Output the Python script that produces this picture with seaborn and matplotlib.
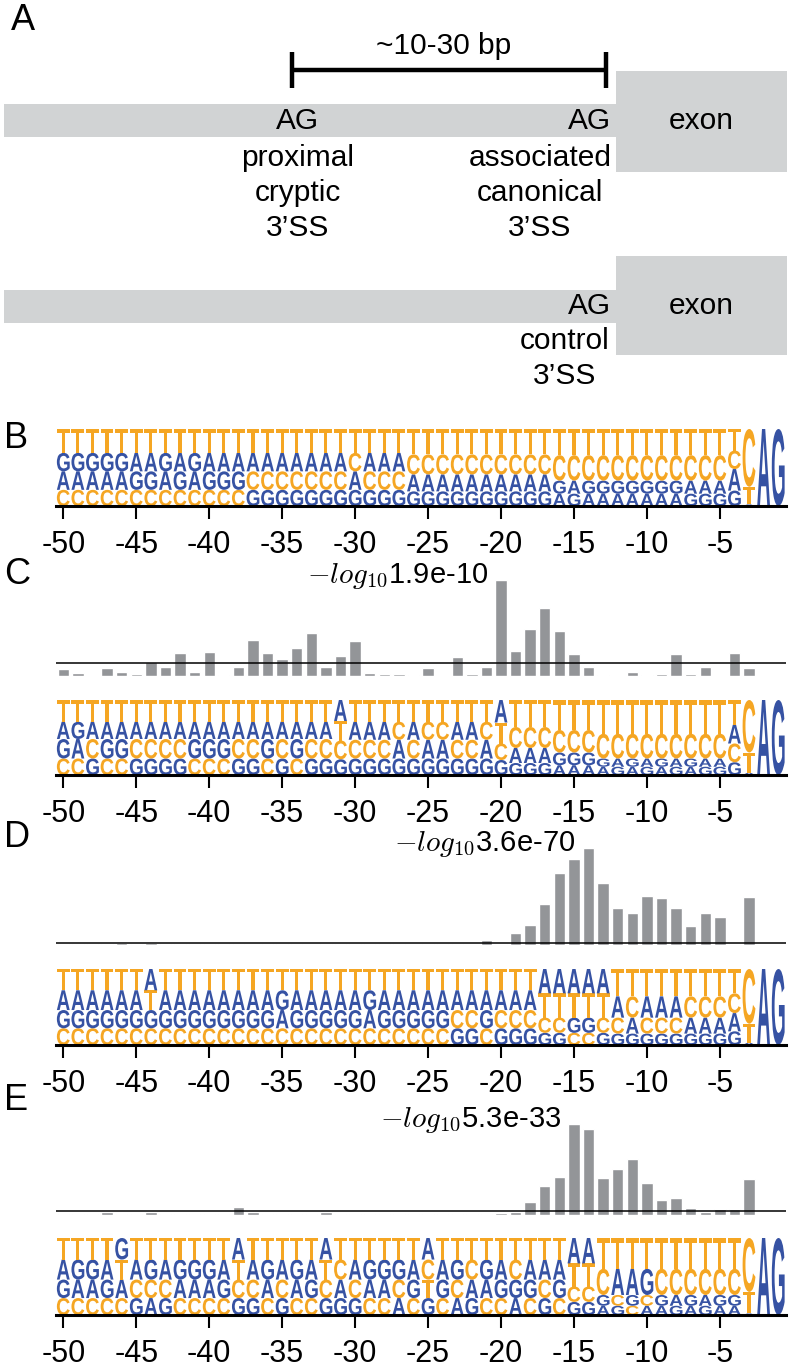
import numpy as np
import pandas as pd
import matplotlib
matplotlib.use("Agg")
import matplotlib.pyplot as plt
import seaborn as sns
from matplotlib.textpath import TextPath
from matplotlib.patches import PathPatch, Rectangle
from matplotlib.font_manager import FontProperties
from matplotlib.transforms import Affine2D

# ---------------------------------------------------------------- data
positions = list(range(-50, 0))          # logo columns -50 .. -1
bar_pos = list(range(-50, -2))           # bar columns -50 .. -3
tick_pos = list(range(-50, 0, 5))
tick_labels = [str(t) for t in tick_pos]

# logo rows, top to bottom, one letter per column (blank = no letter)
b_rows = [
    "T" * 47 + "CAG",
    "GGGGGAAGAGAAA" + "AAAAAAA" + "C" + "AAA" + "C" * 22 + "C" + "T  ",
    "AAAAAGGAGAGGG" + "CCCCCCC" + "A" + "CCC" + "A" * 10 + "G" + "A" + "G" * 7 + "AAA" + "A" + "A  ",
    "C" * 13 + "G" * 7 + "G" + "GGG" + "G" * 10 + "A" + "G" + "A" * 7 + "GGG" + "G" + "   ",
]
b_heights = [
    [31] * 24 + [33] * 10 + [34] * 12 + [28] + [75, 100, 100],
    [24] * 24 + [26] * 10 + [33] * 12 + [24] + [23, 0, 0],
    [24] * 24 + [22] * 10 + [17] * 12 + [28] + [2, 0, 0],
    [21] * 24 + [19] * 10 + [16] * 12 + [20] + [0, 0, 0],
]

c_rows = [
    "T" * 19 + "A" + "T" * 10 + "A" + "T" * 16 + "CAG",
    "AGAAAAAAAAAAAAAAAAA" + "T" + "AAA" + "CACCAAC" + "T" + "C" * 15 + "A" + "T  ",
    "GACGGCCCCGGGCCGCGCC" + "C" + "CCC" + "ACAACCA" + "C" + "AAA" + "GGG" + "GAGAGAGAA" + "C" + "A  ",
    "CCGCCGGGGCCCGGCGCGG" + "G" + "GGG" + "GGGGGGG" + "G" + "GGG" + "AAA" + "AGAGAGAGG" + "G" + "   ",
]
c_heights = [
    [29] * 19 + [28] + [29] * 10 + [30] + [36] * 3 + [40] * 3 + [45] * 9 + [33] + [70, 100, 100],
    [23] * 19 + [26] + [24] * 10 + [28] + [28] * 3 + [30] * 3 + [33] * 9 + [25] + [27, 0, 0],
    [26] * 19 + [25] + [25] * 10 + [22] + [20] * 3 + [17] * 3 + [11] * 9 + [25] + [3, 0, 0],
    [22] * 19 + [21] + [22] * 10 + [20] + [16] * 3 + [13] * 3 + [11] * 9 + [17] + [0, 0, 0],
]

d_rows = [
    "T" * 6 + "A" + "T" * 26 + "A" * 5 + "T" * 9 + "CAG",
    "A" * 6 + "T" + "A" * 8 + "G" + "A" * 5 + "G" + "A" * 11 + "T" * 5 + "AC" + "AAA" + "CCCC" + "T  ",
    "G" * 15 + "A" + "G" * 5 + "A" + "G" * 5 + "CCG" + "C" * 5 + "GG" + "CCA" + "CCC" + "AAAA" + "A  ",
    "C" * 27 + "GGC" + "G" * 5 + "CC" + "GGG" + "GGG" + "GGGG" + "   ",
]
d_heights = [
    [28] * 33 + [32] * 5 + [36] * 8 + [32] + [72, 100, 100],
    [26] * 33 + [32] * 5 + [28] * 8 + [26] + [25, 0, 0],
    [24] * 33 + [20] * 5 + [21] * 8 + [24] + [3, 0, 0],
    [22] * 33 + [16] * 5 + [15] * 8 + [18] + [0, 0, 0],
]

e_rows = [
    "TTTTGTTTTTTTATTTTTATTTTTTA" + "T" * 9 + "AA" + "T" * 10 + "CAG",
    "AGGATAGAGGGATAGAGATCAGGGAC" + "AGCGACAAATTCAAGCCCCCC" + "T  ",
    "GAAGACCCAAAGCCACAGCACAACGT" + "GCAAGGGCGCCGCGCGAGAGG" + "A  ",
    "CCCCCGAGCCCCGGCGCCGGGCCACG" + "CAGCCACGCGGAGCAAGAGAA" + "   ",
]
e_heights = [
    [28] * 35 + [33] * 2 + [40] * 10 + [70, 100, 100],
    [26] * 35 + [30] * 2 + [34] * 10 + [28, 0, 0],
    [24] * 35 + [20] * 2 + [14] * 10 + [2, 0, 0],
    [22] * 35 + [17] * 2 + [12] * 10 + [0, 0, 0],
]

# -log10 p-values per position (-50 .. -3)
c_bars = [0.68, 0.30, 0.05, 0.81, 0.40, 0.20, 1.42, 0.91, 2.33, 0.40,
          2.43, 0.10, 0.91, 3.64, 2.33, 1.72, 2.83, 4.35, 0.91, 2.02,
          3.54, 0.30, 0.25, 0.20, 0.10, 0.81, 0.05, 1.92, 0.20, 0.91,
          9.72, 2.53, 4.76, 6.88, 4.55, 2.23, 0.91, 0.15, 0.05, 0.45,
          0.10, 0.20, 2.23, 0.20, 0.91, 0.03, 2.33, 0.81]
d_bars = [0.5, 0.4, 0.5, 0.6, 1.2, 0.5, 1.4, 0.5, 0.4, 0.5,
          0.6, 0.4, 0.5, 0.3, 0.5, 0.6, 0.4, 0.3, 0.5, 0.4,
          1.0, 0.5, 0.4, 0.5, 0.3, 0.4, 0.5, 0.4, 0.3, 3.6,
          0.5, 8.4, 14.3, 29.1, 51.3, 61.3, 69.4, 44.1, 26.7, 23.1,
          35.1, 33.4, 26.7, 13.6, 23.1, 19.8, 0.4, 34.1]
e_bars = [0.3, 0.3, 0.3, 1.0, 0.3, 0.3, 1.0, 0.3, 0.3, 0.3,
          0.3, 0.3, 3.0, 1.0, 0.3, 0.3, 0.3, 0.3, 1.0, 0.3,
          0.3, 0.3, 0.3, 0.3, 0.3, 0.3, 0.3, 0.3, 0.3, 0.5,
          0.7, 1.0, 4.7, 10.4, 13.6, 32.3, 30.6, 13.3, 16.3, 19.8,
          11.3, 5.3, 5.9, 2.4, 1.0, 2.1, 2.1, 12.7]
p_titles = ["1.9e-10", "3.6e-70", "5.3e-33"]
threshold = -np.log10(0.05)

# ---------------------------------------------------------------- style
sns.set_theme(style="white")
plt.rcParams["font.family"] = ["Liberation Sans", "DejaVu Sans"]
plt.rcParams["mathtext.fontset"] = "cm"
plt.rcParams["text.color"] = "black"
plt.rcParams["xtick.color"] = "black"
plt.rcParams["xtick.labelcolor"] = "black"

ORANGE = "#F5A623"
BLUE = "#3652A3"
GRAY = "#939598"
LIGHT = "#D1D3D4"
colors = {"A": BLUE, "G": BLUE, "C": ORANGE, "T": ORANGE}

W, H = 791, 1371
fig = plt.figure(figsize=(W / 100, H / 100), dpi=100)


def px_axes(x0, y0, x1, y1):
    return fig.add_axes([x0 / W, 1 - y1 / H, (x1 - x0) / W, (y1 - y0) / H])


letter_font = FontProperties(family="Liberation Sans", weight="bold")
glyphs = {ch: TextPath((0, 0), ch, size=1, prop=letter_font) for ch in "ACGT"}


def draw_letter(ax, ch, x, y, w, h):
    path = glyphs[ch]
    ext = path.get_extents()
    tr = (Affine2D().translate(-ext.x0, -ext.y0)
          .scale(w / ext.width, h / ext.height)
          .translate(x - w / 2, y))
    ax.add_patch(PathPatch(tr.transform_path(path), fc=colors[ch], ec="none"))


def draw_logo(ax, rows, heights):
    for i, pos in enumerate(positions):
        col = [(rows[r][i], heights[r][i]) for r in range(4) if rows[r][i] != " " and heights[r][i] > 0]
        total = sum(h for _, h in col)
        y = 0.0
        for ch, h in reversed(col):
            hh = h / total
            draw_letter(ax, ch, pos, y, 0.88, hh)
            y += hh
    ax.set_xlim(-50.5, -0.5)
    ax.set_ylim(0, 1)
    for s in ["top", "left", "right"]:
        ax.spines[s].set_visible(False)
    ax.spines["bottom"].set_linewidth(2.2)
    ax.spines["bottom"].set_color("black")
    ax.set_yticks([])
    ax.set_xticks(tick_pos)
    ax.set_xticklabels(tick_labels)
    ax.tick_params(axis="x", bottom=True, length=9, width=1.5, pad=8,
                   labelsize=22, direction="out", color="black")
    ax.set_facecolor("none")


def draw_bars(ax, values, title):
    df = pd.DataFrame({"pos": bar_pos, "val": values})
    sns.barplot(data=df, x="pos", y="val", native_scale=True, orient="x",
                color=GRAY, saturation=1, width=0.78, errorbar=None, ax=ax)
    vmax = max(values)
    peak = bar_pos[values.index(vmax)]
    ax.axhline(threshold, color="black", lw=1.1)
    ax.set_xlim(-50.5, -0.5)
    ax.set_ylim(0, vmax)
    ax.axis("off")
    ax.annotate(r"$-log_{10}$" + title, xy=(peak - 0.9, vmax), xytext=(0, -3),
                textcoords="offset pixels", ha="right", va="baseline",
                fontsize=21, annotation_clip=False)


# ---------------------------------------------------------------- panel A
ax_a = px_axes(0, 0, W, 390)
ax_a.set_xlim(0, W)
ax_a.set_ylim(390, 0)
ax_a.axis("off")
ax_a.add_patch(Rectangle((4, 104), 612, 33, color=LIGHT, lw=0))
ax_a.add_patch(Rectangle((616, 71), 171, 101, color=LIGHT, lw=0))
ax_a.add_patch(Rectangle((4, 290), 612, 33, color=LIGHT, lw=0))
ax_a.add_patch(Rectangle((616, 256), 171, 99, color=LIGHT, lw=0))
ax_a.plot([292, 606], [70, 70], color="black", lw=3.2, solid_capstyle="butt")
ax_a.plot([292, 292], [52, 88], color="black", lw=3.2, solid_capstyle="butt")
ax_a.plot([606, 606], [52, 88], color="black", lw=3.2, solid_capstyle="butt")
txt = dict(fontsize=21.5, ha="center", va="center")
ax_a.text(444, 46, "~10-30 bp", **txt)
ax_a.text(298, 121, "AG", **txt)
ax_a.text(590, 121, "AG", **txt)
ax_a.text(701, 121, "exon", **txt)
for k, word in enumerate(["proximal", "cryptic", "3\u2019SS"]):
    ax_a.text(298, 158 + 35 * k, word, **txt)
for k, word in enumerate(["associated", "canonical", "3\u2019SS"]):
    ax_a.text(540, 158 + 35 * k, word, **txt)
ax_a.text(590, 306, "AG", **txt)
ax_a.text(701, 306, "exon", **txt)
ax_a.text(565, 341, "control", **txt)
ax_a.text(565, 376, "3\u2019SS", **txt)

# ---------------------------------------------------------------- panels B-E
ax_b = px_axes(56, 429, 785.5, 506)
draw_logo(ax_b, b_rows, b_heights)

ax_cb = px_axes(56, 580, 785.5, 676)
draw_bars(ax_cb, c_bars, p_titles[0])
ax_c = px_axes(56, 700, 785.5, 775)
draw_logo(ax_c, c_rows, c_heights)

ax_db = px_axes(56, 848, 785.5, 945)
draw_bars(ax_db, d_bars, p_titles[1])
ax_d = px_axes(56, 969, 785.5, 1045)
draw_logo(ax_d, d_rows, d_heights)

ax_eb = px_axes(56, 1124, 785.5, 1215)
draw_bars(ax_eb, e_bars, p_titles[2])
ax_e = px_axes(56, 1238, 785.5, 1315)
draw_logo(ax_e, e_rows, e_heights)

# panel letters
for lab, (x, y) in {"A": (11, 21), "B": (4, 438), "C": (4, 575),
                    "D": (4, 838), "E": (4, 1100)}.items():
    fig.text(x / W, 1 - y / H, lab, fontsize=26, ha="left", va="center")

fig.savefig("out.png", dpi=100)
